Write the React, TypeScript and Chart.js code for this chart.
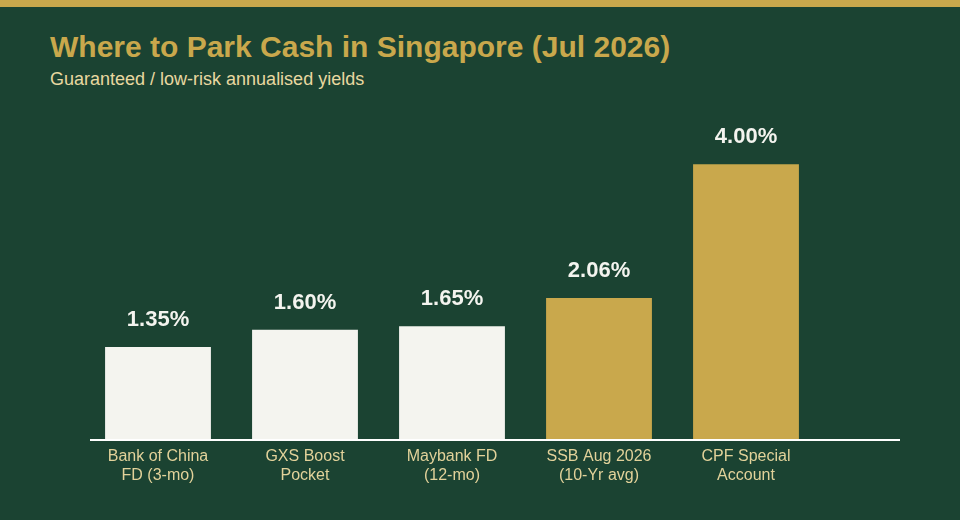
import React, { useEffect, useRef } from "react";
import { Chart, registerables } from "chart.js";

Chart.register(...registerables);

const categories: string[][] = [
  ["Bank of China", "FD (3-mo)"],
  ["GXS Boost", "Pocket"],
  ["Maybank FD", "(12-mo)"],
  ["SSB Aug 2026", "(10-Yr avg)"],
  ["CPF Special", "Account"],
];
const yields: number[] = [1.35, 1.6, 1.65, 2.06, 4.0];
const highlight: boolean[] = [false, false, false, true, true];

const BG = "#1b4332";
const GOLD = "#c9a84c";
const WHITE = "#f4f4ef";
const CREAM = "#e8d8a0";
const TICK = "#e2d29a";

const valueLabels = {
  id: "valueLabels",
  afterDatasetsDraw(chart: any) {
    const ctx = chart.ctx;
    const meta = chart.getDatasetMeta(0);
    ctx.save();
    ctx.font = "bold 22px 'Liberation Sans', Arial, sans-serif";
    ctx.fillStyle = WHITE;
    ctx.textAlign = "center";
    ctx.textBaseline = "bottom";
    meta.data.forEach((bar: any, i: number) => {
      ctx.fillText(yields[i].toFixed(2) + "%", bar.x, bar.y - 16);
    });
    ctx.restore();
  },
};

const baseline = {
  id: "baseline",
  afterDatasetsDraw(chart: any) {
    const ctx = chart.ctx;
    const y = chart.scales.y.getPixelForValue(0);
    ctx.save();
    ctx.strokeStyle = "#ffffff";
    ctx.lineWidth = 2;
    ctx.beginPath();
    ctx.moveTo(90, y);
    ctx.lineTo(900, y);
    ctx.stroke();
    ctx.restore();
  },
};

export default function App() {
  const ref = useRef<HTMLCanvasElement>(null);
  useEffect(() => {
    document.body.style.margin = "0";
    const chart = new Chart(ref.current!, {
      type: "bar",
      data: {
        labels: categories,
        datasets: [
          {
            data: yields,
            backgroundColor: highlight.map((h) => (h ? GOLD : WHITE)),
            borderWidth: 0,
            categoryPercentage: 1,
            barPercentage: 0.72,
          },
        ],
      },
      options: {
        animation: false,
        responsive: false,
        maintainAspectRatio: false,
        layout: { padding: { left: 84.5, right: 140.5, top: 109, bottom: 0 } },
        plugins: { legend: { display: false }, tooltip: { enabled: false } },
        scales: {
          x: {
            grid: { display: false, drawTicks: false },
            border: { display: false },
            ticks: {
              color: TICK,
              font: { family: "'Liberation Sans', Arial, sans-serif", size: 16 },
              padding: 7,
              maxRotation: 0,
            },
            afterFit: (s: any) => {
              s.height = 80;
            },
          },
          y: { display: false, min: 0, max: 4.8 },
        },
      },
      plugins: [valueLabels, baseline],
    });
    return () => chart.destroy();
  }, []);
  return (
    <div style={{ position: "relative", width: 960, height: 520, background: BG, overflow: "hidden" }}>
      <div style={{ position: "absolute", left: 0, top: 0, width: 960, height: 7, background: GOLD }} />
      <div
        style={{
          position: "absolute",
          left: 50,
          top: 29,
          color: GOLD,
          fontFamily: "'Liberation Sans', Arial, sans-serif",
          fontWeight: "bold",
          fontSize: 30,
          lineHeight: "36px",
          whiteSpace: "nowrap",
        }}
      >
        Where to Park Cash in Singapore (Jul 2026)
      </div>
      <div
        style={{
          position: "absolute",
          left: 50,
          top: 68,
          color: CREAM,
          fontFamily: "'Liberation Sans', Arial, sans-serif",
          fontSize: 18,
          lineHeight: "22px",
          whiteSpace: "nowrap",
        }}
      >
        Guaranteed / low-risk annualised yields
      </div>
      <canvas ref={ref} width={960} height={520} style={{ position: "absolute", left: 0, top: 0 }} />
    </div>
  );
}
